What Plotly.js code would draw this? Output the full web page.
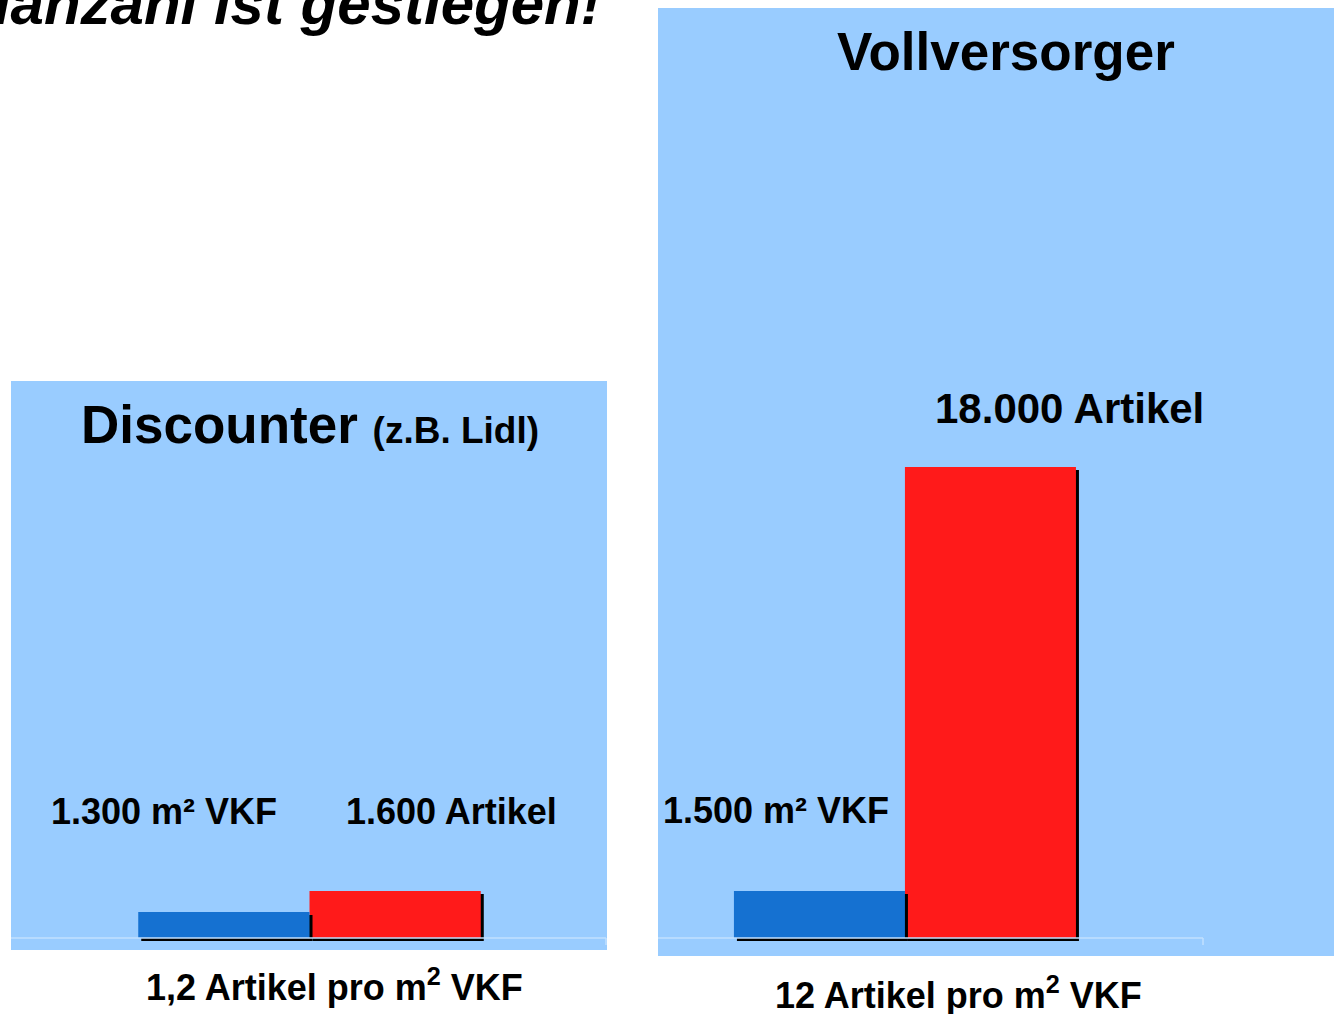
<!DOCTYPE html>
<html>
<head>
<meta charset="utf-8">
<script src="https://cdn.plot.ly/plotly-3.0.1.min.js"></script>
<style>html,body{margin:0;padding:0;background:#fff;}#chart{width:1334px;height:1014px;}</style>
</head>
<body>
<div id="chart"></div>
<script>
// ---------------- data ----------------
const stores = ['Discounter', 'Vollversorger'];
const storeNotes = ['(z.B. Lidl)', ''];
const salesArea = [1300, 1500];      // m² Verkaufsfläche (VKF)
const articles = [1600, 18000];      // Anzahl Artikel
const ratioLabels = ['1,2', '12'];   // Artikel pro m² VKF
const barCategories = ['Verkaufsfläche', 'Artikel'];
const pageTitle = 'Die Artikelanzahl ist gestiegen!';

// ---------------- style / layout ----------------
const W = 1334, H = 1014;
const FONT = 'Liberation Sans, Arial, Helvetica, sans-serif';
const PANEL = '#99CCFF';
const BLUE = '#1571D1';
const RED = '#FF1A1A';
const fx = p => p / W;
const fy = p => 1 - p / H;
// panel rectangles in pixels [left, top, right, bottom]
const panels = [[11, 381, 607, 950], [658, 8, 1334, 956]];
// axis ranges (Artikel axis, m² axis) per panel
const xRanges = [[-1.243, 2.237], [-0.944, 3.009]];
const artRanges = [[-408, 18960], [-688, 35540]];
const areaRanges = [[-600, 27850], [-574, 29680]];
const fmt = v => v.toLocaleString('de-DE');

const traces = [];
const layout = {
  width: W, height: H,
  margin: {l: 0, r: 0, t: 0, b: 0, pad: 0},
  paper_bgcolor: '#ffffff',
  plot_bgcolor: PANEL,
  barmode: 'overlay',
  showlegend: false,
  hovermode: false,
  annotations: [],
  shapes: []
};

panels.forEach((p, i) => {
  const xa = i === 0 ? 'x' : 'x2';
  const yArt = i === 0 ? 'y' : 'y3';
  const yArea = i === 0 ? 'y2' : 'y4';
  const pxH = p[3] - p[1];
  const pxW = p[2] - p[0];
  const artPerPx = (artRanges[i][1] - artRanges[i][0]) / pxH;
  const areaPerPx = (areaRanges[i][1] - areaRanges[i][0]) / pxH;
  const xPerPx = (xRanges[i][1] - xRanges[i][0]) / pxW;
  const sh = 3; // drop shadow in px

  // shadows
  traces.push({type: 'bar', x: [barCategories[0]], y: [salesArea[i]], base: [-sh * areaPerPx],
    width: 1, offset: -0.5 + sh * xPerPx, xaxis: xa, yaxis: yArea,
    marker: {color: '#000000', line: {width: 0}}, hoverinfo: 'skip'});
  traces.push({type: 'bar', x: [barCategories[1]], y: [articles[i]], base: [-sh * artPerPx],
    width: 1, offset: -0.5 + sh * xPerPx, xaxis: xa, yaxis: yArt,
    marker: {color: '#000000', line: {width: 0}}, hoverinfo: 'skip'});
  // bars
  traces.push({type: 'bar', x: [barCategories[0]], y: [salesArea[i]], width: 1,
    xaxis: xa, yaxis: yArea, marker: {color: BLUE, line: {width: 0}}, name: 'm² VKF'});
  traces.push({type: 'bar', x: [barCategories[1]], y: [articles[i]], width: 1,
    xaxis: xa, yaxis: yArt, marker: {color: RED, line: {width: 0}}, name: 'Artikel'});

  const xKey = i === 0 ? 'xaxis' : 'xaxis2';
  layout[xKey] = {domain: [fx(p[0]), fx(p[2])], range: xRanges[i], type: 'category',
    categoryorder: 'array', categoryarray: barCategories,
    visible: false, fixedrange: true, anchor: yArt};
  const yArtKey = i === 0 ? 'yaxis' : 'yaxis3';
  const yAreaKey = i === 0 ? 'yaxis2' : 'yaxis4';
  layout[yArtKey] = {domain: [fy(p[3]), fy(p[1])], range: artRanges[i], visible: false,
    fixedrange: true, anchor: xa};
  layout[yAreaKey] = {range: areaRanges[i], overlaying: yArt, anchor: xa, visible: false,
    fixedrange: true};

  // baseline
  const lineEnd = i === 0 ? p[2] - 1 : 1203;
  layout.shapes.push({type: 'line', xref: 'paper', yref: yArt, x0: fx(p[0]), x1: fx(lineEnd),
    y0: 0, y1: 0, line: {color: '#C2E0FF', width: 1.5}, layer: 'above'});
  layout.shapes.push({type: 'line', xref: 'paper', yref: 'paper', x0: fx(lineEnd), x1: fx(lineEnd),
    y0: fy(938), y1: fy(945), line: {color: '#C2E0FF', width: 1.5}, layer: 'above'});
});

function ann(text, x, y, size, extra) {
  return Object.assign({text: text, xref: 'paper', yref: 'paper', x: fx(x), y: fy(y),
    xanchor: 'center', yanchor: 'middle', showarrow: false,
    font: {family: FONT, size: size, color: '#000000', weight: 'bold'}}, extra || {});
}

// page title (cut off at the top)
layout.annotations.push(ann(pageTitle, 603, 3, 60,
  {xanchor: 'right', font: {family: FONT, size: 60, color: '#000', weight: 'bold', style: 'italic'}}));
// panel titles
layout.annotations.push(ann(stores[0] + ' <span style="font-size:37px">' + storeNotes[0] + '</span>', 310, 424, 53));
layout.annotations.push(ann(stores[1], 1006, 51, 53));
// value labels
layout.annotations.push(ann(fmt(salesArea[0]) + ' m² VKF', 164, 811, 36));
layout.annotations.push(ann(fmt(articles[0]) + ' Artikel', 451, 811, 36));
layout.annotations.push(ann(fmt(salesArea[1]) + ' m² VKF', 776, 810, 36));
layout.annotations.push(ann(fmt(articles[1]) + ' Artikel', 1069, 408, 42));
// ratio labels
layout.annotations.push(ann(ratioLabels[0] + ' Artikel pro m<sup>2</sup> VKF', 334, 985, 36));
layout.annotations.push(ann(ratioLabels[1] + ' Artikel pro m<sup>2</sup> VKF', 959, 993, 36));

Plotly.newPlot('chart', traces, layout, {staticPlot: true, displayModeBar: false});
</script>
</body>
</html>
